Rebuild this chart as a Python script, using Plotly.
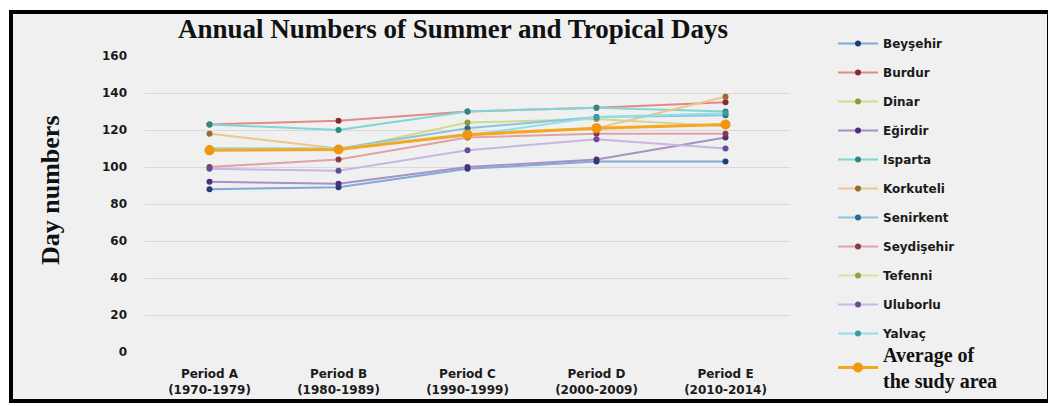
import plotly.graph_objects as go

periods = ["Period A<br>(1970-1979)", "Period B<br>(1980-1989)", "Period C<br>(1990-1999)",
           "Period D<br>(2000-2009)", "Period E<br>(2010-2014)"]

beysehir = [88, 89, 99, 103, 103]
burdur = [123, 125, 130, 132, 135]
dinar = [110, 109, 124, 126, 122]
egirdir = [92, 91, 100, 104, 116]
isparta = [123, 120, 130, 132, 130]
korkuteli = [118, 110, 117, 121, 138]
senirkent = [110, 110, 121, 127, 128]
seydisehir = [100, 104, 116, 118, 118]
tefenni = [110, 110, 118, 121, 123]
uluborlu = [99, 98, 109, 115, 110]
yalvac = [110, 110, 117, 127, 129]
average = [109, 109.5, 117.5, 121, 123]

names = ["Beyşehir", "Burdur", "Dinar", "Eğirdir", "Isparta", "Korkuteli",
         "Senirkent", "Seydişehir", "Tefenni", "Uluborlu", "Yalvaç"]
series = [beysehir, burdur, dinar, egirdir, isparta, korkuteli,
          senirkent, seydisehir, tefenni, uluborlu, yalvac]
line_colors = ["#7fa9d6", "#e48a86", "#cfd98f", "#a690c4", "#7fd6d2", "#eec58a",
               "#8cc3dc", "#e3a0a8", "#dde0a0", "#c9b5e3", "#8fe0e6"]
marker_colors = ["#1f3f78", "#8a2a2a", "#8c9a3c", "#4b2f78", "#2a8a80", "#9a6a2a",
                 "#2a6a8e", "#8a3a4a", "#9aa04a", "#6a4a9a", "#3a9aa6"]

# page body margin offsets the figure by 8px
OFF = 8
W, H = 1056 - OFF, 406 - OFF
L, R, T, B = 145 - OFF, 790 - OFF, 56 - OFF, 352 - OFF
pw, ph = R - L, B - T

def px(x):
    return (x - OFF - L) / pw

def py(y):
    return (B - (y - OFF)) / ph

fig = go.Figure()
for i, (n, s) in enumerate(zip(names, series)):
    fig.add_trace(go.Scatter(
        x=periods, y=s, name=n, mode="lines+markers",
        line=dict(color=line_colors[i], width=2),
        marker=dict(color=marker_colors[i], size=6),
        legendgroup=n, legend="legend",
    ))
fig.add_trace(go.Scatter(
    x=periods, y=average,
    name="<b>Average of<br>the sudy area</b>",
    mode="lines+markers",
    line=dict(color="#f5a623", width=3),
    marker=dict(color="#f0960f", size=10),
    legend="legend2",
))

fig.update_layout(
    width=W, height=H,
    margin=dict(l=L, r=W - R, t=T, b=H - B, pad=0, autoexpand=False),
    paper_bgcolor="white",
    plot_bgcolor="rgba(0,0,0,0)",
    showlegend=True,
    legend=dict(
        x=px(833), y=py(29), xanchor="left", yanchor="top",
        font=dict(family="DejaVu Sans", size=12, color="#1a1a1a", weight="bold"),
        bgcolor="rgba(0,0,0,0)", tracegroupgap=10, itemwidth=40,
        maxheight=400,
    ),
    legend2=dict(
        x=px(833), y=py(335), xanchor="left", yanchor="top",
        font=dict(family="Liberation Serif", size=20, color="#111"),
        bgcolor="rgba(0,0,0,0)", itemwidth=40, maxheight=100,
    ),
    xaxis=dict(
        type="category", showgrid=False, zeroline=False, showline=False,
        range=[-0.5, 4.5],
        tickfont=dict(family="DejaVu Sans", size=12, color="#1a1a1a", weight="bold"),
        ticks="", ticklabelstandoff=13,
    ),
    xaxis2=dict(
        type="linear", overlaying="x", anchor="y", side="bottom",
        range=[-0.5, 4.5], tick0=-0.5, dtick=0.5,
        showgrid=True, gridcolor="#d9d9d9", gridwidth=1,
        showticklabels=False, ticks="", zeroline=False, showline=False,
    ),
    yaxis=dict(
        range=[0, 160], dtick=20, showgrid=True, gridcolor="#d9d9d9", gridwidth=1,
        zeroline=False, showline=False, ticks="",
        tickfont=dict(family="DejaVu Sans", size=12, color="#1a1a1a", weight="bold"),
        ticklabelstandoff=17,
    ),
    shapes=[dict(
        type="rect", xref="paper", yref="paper",
        x0=px(11), x1=px(1049), y0=py(401), y1=py(12),
        line=dict(color="black", width=4), fillcolor="#f0f0f0", layer="below",
    )],
    annotations=[
        dict(text="<b>Annual Numbers of Summer and Tropical Days</b>",
             xref="paper", yref="paper", x=px(453), y=py(29),
             xanchor="center", yanchor="middle", showarrow=False,
             font=dict(family="Liberation Serif", size=27, color="#111")),
        dict(text="<b>Day numbers</b>", textangle=-90,
             xref="paper", yref="paper", x=px(50), y=py(190),
             xanchor="center", yanchor="middle", showarrow=False,
             font=dict(family="Liberation Serif", size=26, color="#111")),
    ],
)

fig.write_html("out.html")
